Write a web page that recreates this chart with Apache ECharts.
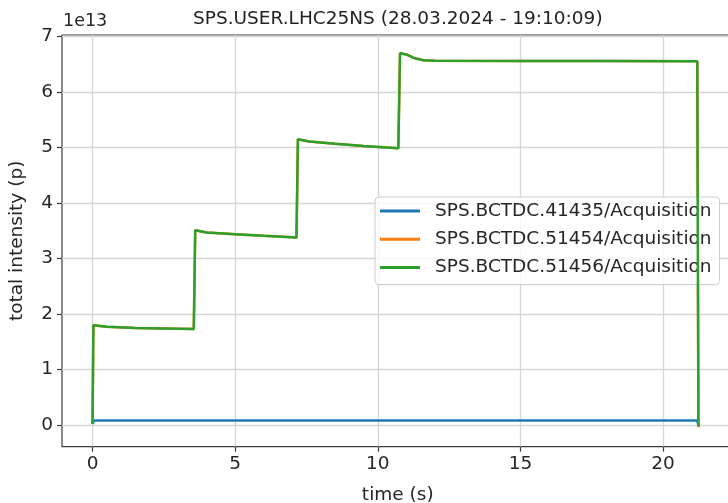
<!DOCTYPE html>
<html>
<head>
<meta charset="utf-8">
<script src="https://cdn.jsdelivr.net/npm/echarts@6/dist/echarts.min.js"></script>
<style>
  html, body { margin: 0; padding: 0; background: #ffffff; }
  #chart { width: 728px; height: 503px; }
</style>
</head>
<body>
<div id="chart"></div>
<script>
// Beam current transformer readings for one SPS cycle.
// Time in seconds, intensity in units of 1e13 protons.
const chartTitle = 'SPS.USER.LHC25NS (28.03.2024 - 19:10:09)';
const offsetLabel = '1e13';
const xName = 'time (s)';
const yName = 'total intensity (p)';
const seriesNames = [
  'SPS.BCTDC.41435/Acquisition',
  'SPS.BCTDC.51454/Acquisition',
  'SPS.BCTDC.51456/Acquisition'
];
const xTicks = [0, 5, 10, 15, 20];
const yTicks = [0, 1, 2, 3, 4, 5, 6, 7];

const bct41435 = [
  [0.00, 0.02], [0.05, 0.08], [5.0, 0.08], [10.0, 0.08], [15.0, 0.08],
  [21.20, 0.08], [21.25, -0.03]
];

const bct51454 = [
  [0.00, 0.02], [0.03, 1.80], [0.5, 1.77], [1.5, 1.75], [2.5, 1.74], [3.55, 1.73],
  [3.60, 3.51], [4.0, 3.47], [5.0, 3.44], [6.0, 3.41], [7.15, 3.38],
  [7.20, 5.15], [7.6, 5.11], [8.5, 5.07], [9.5, 5.03], [10.72, 4.99],
  [10.78, 6.70], [11.0, 6.68], [11.3, 6.61], [11.6, 6.575], [12.0, 6.565],
  [15.0, 6.56], [18.0, 6.56], [21.20, 6.555], [21.24, -0.04]
];

const bct51456 = [
  [0.00, 0.02], [0.03, 1.80], [0.5, 1.77], [1.5, 1.75], [2.5, 1.74], [3.55, 1.73],
  [3.60, 3.51], [4.0, 3.47], [5.0, 3.44], [6.0, 3.41], [7.15, 3.38],
  [7.20, 5.15], [7.6, 5.11], [8.5, 5.07], [9.5, 5.03], [10.72, 4.99],
  [10.78, 6.70], [11.0, 6.68], [11.3, 6.61], [11.6, 6.575], [12.0, 6.565],
  [15.0, 6.56], [18.0, 6.56], [21.20, 6.555], [21.24, -0.02]
];

const colors = ['#1f77b4', '#ff7f0e', '#2ca02c'];
const FONT = '"DejaVu Sans", sans-serif';
const FONT_SIZE = 18.5;
const textColor = '#262626';
const gridColor = '#d6d6d6';
const spineColor = '#3a3a3a';

const chart = echarts.init(document.getElementById('chart'), null, { renderer: 'canvas' });

function lineSeries(name, data, color, z) {
  return {
    name: name,
    type: 'line',
    data: data,
    showSymbol: false,
    symbol: 'none',
    z: z,
    lineStyle: { color: color, width: 2.5 },
    itemStyle: { color: color },
    emphasis: { disabled: true }
  };
}

chart.setOption({
  animation: false,
  color: colors,
  textStyle: { fontFamily: FONT },
  grid: {
    left: 62, top: 35, right: -5.5, bottom: 56.3,
    show: true,
    borderColor: spineColor,
    borderWidth: 1.2,
    backgroundColor: 'transparent',
    containLabel: false,
    outerBoundsMode: 'none'
  },
  xAxis: {
    type: 'value',
    min: -1.07,
    max: 22.47,
    name: xName,
    nameLocation: 'middle',
    nameGap: 39,
    nameTextStyle: { fontSize: FONT_SIZE, color: textColor, fontFamily: FONT },
    axisLine: { show: false, onZero: false },
    axisTick: {
      show: true, inside: false, length: 5,
      customValues: xTicks,
      lineStyle: { color: spineColor, width: 1.2 }
    },
    axisLabel: {
      customValues: xTicks,
      fontSize: FONT_SIZE, color: textColor, margin: 8, fontFamily: FONT
    },
    splitLine: { show: true, lineStyle: { color: gridColor, width: 1.3 } }
  },
  yAxis: {
    type: 'value',
    min: -0.39,
    max: 7.03,
    name: yName,
    nameLocation: 'middle',
    nameRotate: 90,
    nameGap: 35,
    nameTextStyle: { fontSize: FONT_SIZE, color: textColor, fontFamily: FONT },
    axisLine: { show: false, onZero: false },
    axisTick: {
      show: true, inside: false, length: 5,
      customValues: yTicks,
      lineStyle: { color: spineColor, width: 1.2 }
    },
    axisLabel: {
      customValues: yTicks,
      fontSize: FONT_SIZE, color: textColor, margin: 9, fontFamily: FONT
    },
    splitLine: { show: true, lineStyle: { color: gridColor, width: 1.3 } }
  },
  legend: {
    orient: 'vertical',
    left: 375,
    top: 197,
    data: seriesNames,
    icon: 'rect',
    itemWidth: 40,
    itemHeight: 3,
    itemGap: 8.3,
    padding: [4, 8, 7, 5],
    backgroundColor: 'rgba(255,255,255,0.8)',
    borderColor: '#cccccc',
    borderWidth: 1,
    borderRadius: 4,
    selectedMode: false,
    textStyle: {
      fontSize: FONT_SIZE, color: textColor, fontFamily: FONT,
      lineHeight: 20, padding: [0, 0, 0, 10]
    }
  },
  graphic: [
    {
      type: 'text', x: 397.8, y: 19, silent: true,
      style: {
        text: chartTitle, align: 'center', verticalAlign: 'middle',
        fontSize: FONT_SIZE, fontFamily: FONT, fill: '#222222'
      }
    },
    {
      type: 'text', x: 63, y: 21, silent: true,
      style: {
        text: offsetLabel, align: 'left', verticalAlign: 'middle',
        fontSize: 17.5, fontFamily: FONT, fill: textColor
      }
    }
  ],
  series: [
    lineSeries(seriesNames[0], bct41435, colors[0], 2),
    lineSeries(seriesNames[1], bct51454, colors[1], 3),
    lineSeries(seriesNames[2], bct51456, colors[2], 4)
  ]
});
</script>
</body>
</html>
